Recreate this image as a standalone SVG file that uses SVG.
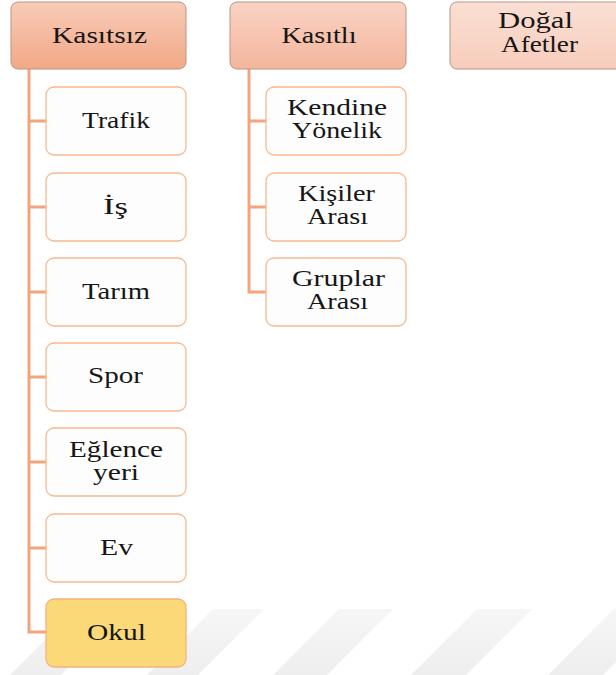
<svg xmlns="http://www.w3.org/2000/svg" width="616" height="675" viewBox="0 0 616 675">
<defs>
<linearGradient id="gTop1" x1="0" y1="0" x2="0" y2="1"><stop offset="0" stop-color="#f8cbb8"/><stop offset="1" stop-color="#f2a886"/></linearGradient>
<linearGradient id="gTop2" x1="0" y1="0" x2="0" y2="1"><stop offset="0" stop-color="#f9d3c4"/><stop offset="1" stop-color="#f4b69c"/></linearGradient>
<linearGradient id="gTop3" x1="0" y1="0" x2="0" y2="1"><stop offset="0" stop-color="#fadfd4"/><stop offset="1" stop-color="#f7cdbc"/></linearGradient>
<linearGradient id="gStripe" x1="0" y1="0" x2="0" y2="1"><stop offset="0" stop-color="#f6f6f6"/><stop offset="1" stop-color="#eeeeee"/></linearGradient>
<style>
.top{stroke:#b89585;stroke-width:1}
.child{fill:#fdfdfd;stroke:#f6b990;stroke-width:1.3}
.okul{fill:#fcd978;stroke:#f4b183;stroke-width:1.3}
.conn{fill:none;stroke:#f3a47c;stroke-width:3}
.t{fill:#161616;text-anchor:middle}
.stripe{fill:url(#gStripe)}
</style>
</defs>
<g id="background">
<polygon class="stripe" points="76,609 127,609 61,675 10,675"/>
<polygon class="stripe" points="213,609 264,609 198,675 147,675"/>
<polygon class="stripe" points="339,609 393,609 327,675 273,675"/>
<polygon class="stripe" points="477,609 532,609 466,675 411,675"/>
<polygon class="stripe" points="614,609 669,609 603,675 548,675"/>
</g>
<g id="connectors">
<path class="conn" d="M29,69 V632 H46 M29,121 H46 M29,207 H46 M29,292 H46 M29,377 H46 M29,462 H46 M29,548 H46"/>
<path class="conn" d="M249,69 V292 H266 M249,121 H266 M249,207 H266"/>
</g>
<g font-family="Liberation Serif, serif" font-size="24">
<g id="kasitsiz">
<rect class="top" x="11" y="2" width="175" height="67" rx="7" fill="url(#gTop1)"/>
<text class="t" x="99.5" y="43" textLength="95" lengthAdjust="spacingAndGlyphs">Kasıtsız</text>
</g>
<g id="kasitli">
<rect class="top" x="230" y="2" width="176" height="67" rx="7" fill="url(#gTop2)"/>
<text class="t" x="319" y="43" textLength="75" lengthAdjust="spacingAndGlyphs">Kasıtlı</text>
</g>
<g id="dogal-afetler">
<rect class="top" x="450" y="2" width="176" height="67" rx="7" fill="url(#gTop3)"/>
<text class="t" x="535.5" y="28" textLength="75" lengthAdjust="spacingAndGlyphs">Doğal</text>
<text class="t" x="539.5" y="52" textLength="77" lengthAdjust="spacingAndGlyphs">Afetler</text>
</g>
<g id="trafik">
<rect class="child" x="46" y="87" width="140" height="68" rx="8"/>
<text class="t" x="116" y="128" textLength="68" lengthAdjust="spacingAndGlyphs">Trafik</text>
</g>
<g id="is">
<rect class="child" x="46" y="173" width="140" height="68" rx="8"/>
<text class="t" x="115.5" y="214" textLength="25" lengthAdjust="spacingAndGlyphs">İş</text>
</g>
<g id="tarim">
<rect class="child" x="46" y="258" width="140" height="68" rx="8"/>
<text class="t" x="116" y="299" textLength="68" lengthAdjust="spacingAndGlyphs">Tarım</text>
</g>
<g id="spor">
<rect class="child" x="46" y="343" width="140" height="68" rx="8"/>
<text class="t" x="115.5" y="383" textLength="55" lengthAdjust="spacingAndGlyphs">Spor</text>
</g>
<g id="eglence-yeri">
<rect class="child" x="46" y="428" width="140" height="68" rx="8"/>
<text class="t" x="116" y="457" textLength="94" lengthAdjust="spacingAndGlyphs">Eğlence</text>
<text class="t" x="116" y="480" textLength="46" lengthAdjust="spacingAndGlyphs">yeri</text>
</g>
<g id="ev">
<rect class="child" x="46" y="514" width="140" height="68" rx="8"/>
<text class="t" x="116.5" y="555" textLength="33" lengthAdjust="spacingAndGlyphs">Ev</text>
</g>
<g id="okul">
<rect class="okul" x="46" y="599" width="140" height="68" rx="8"/>
<text class="t" x="116.5" y="640" textLength="59" lengthAdjust="spacingAndGlyphs">Okul</text>
</g>
<g id="kendine-yonelik">
<rect class="child" x="266" y="87" width="140" height="68" rx="8"/>
<text class="t" x="337" y="115" textLength="100" lengthAdjust="spacingAndGlyphs">Kendine</text>
<text class="t" x="337" y="138" textLength="90" lengthAdjust="spacingAndGlyphs">Yönelik</text>
</g>
<g id="kisiler-arasi">
<rect class="child" x="266" y="173" width="140" height="68" rx="8"/>
<text class="t" x="336.5" y="201" textLength="77" lengthAdjust="spacingAndGlyphs">Kişiler</text>
<text class="t" x="337.5" y="224" textLength="61" lengthAdjust="spacingAndGlyphs">Arası</text>
</g>
<g id="gruplar-arasi">
<rect class="child" x="266" y="258" width="140" height="68" rx="8"/>
<text class="t" x="338.5" y="286" textLength="93" lengthAdjust="spacingAndGlyphs">Gruplar</text>
<text class="t" x="337.5" y="309" textLength="61" lengthAdjust="spacingAndGlyphs">Arası</text>
</g>
</g>
</svg>
